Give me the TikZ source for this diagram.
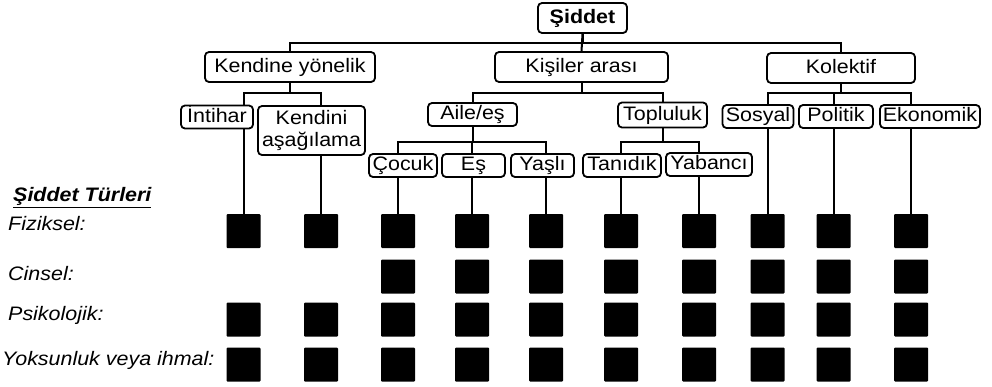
\documentclass[tikz,border=0pt]{standalone}
\usepackage{fontspec}
\setmainfont{Liberation Sans}[FakeStretch=1.1]
\usetikzlibrary{backgrounds}

\tikzset{
  kutu/.style={draw, line width=1.8pt, rounded corners=4pt, fill=white, inner sep=0pt,
    minimum height=23pt, text height=14pt, text depth=4pt, font=\fontsize{19.5}{22}\selectfont},
  kare/.style={fill=black, minimum size=34pt, inner sep=0pt, rounded corners=1pt},
  etiket/.style={anchor=base west, inner sep=0pt, font=\fontsize{19.5}{22}\selectfont\itshape},
  dal/.style={line width=2pt}
}

\begin{document}
\begin{tikzpicture}[x=1pt,y=1pt,yscale=-1,xscale=1]
    \useasboundingbox (0,0) rectangle (992,386);

    %Shape: Rounded Rect [top level]
    \node[kutu, minimum width=89pt, minimum height=30pt, font=\fontsize{19.5}{22}\selectfont\bfseries] (sid) at (582.5,18) {Şiddet};
    \node[kutu, minimum width=170pt, minimum height=30pt] (kend) at (290,67) {Kendine yönelik};
    \node[kutu, minimum width=173pt, minimum height=30pt] (kisi) at (581.5,67) {Kişiler arası};
    \node[kutu, minimum width=148pt, minimum height=30pt] (kol) at (841,68) {Kolektif};

    %Shape: Rounded Rect [second level]
    \node[kutu, minimum width=72pt] (int) at (217,117) {İntihar};
    \node[kutu, align=center, text height=, text depth=, minimum width=107pt, minimum height=49pt] (kasag) at (311.5,130.5) {Kendini\\aşağılama};
    \node[kutu, minimum width=89pt] (aile) at (472.5,114.5) {Aile/eş};
    \node[kutu, minimum width=89pt, minimum height=25pt] (top) at (662.5,115) {Topluluk};
    \node[kutu, minimum width=71pt] (sos) at (758,116.5) {Sosyal};
    \node[kutu, minimum width=74pt] (pol) at (836,116.5) {Politik};
    \node[kutu, minimum width=100pt] (eko) at (930,116.5) {Ekonomik};

    %Shape: Rounded Rect [third level]
    \node[kutu, minimum width=68pt] (coc) at (403,165.5) {Çocuk};
    \node[kutu, minimum width=63pt] (es) at (473.5,165.5) {Eş};
    \node[kutu, minimum width=63pt] (yas) at (542.5,165.5) {Yaşlı};
    \node[kutu, minimum width=78pt] (tan) at (622,165.5) {Tanıdık};
    \node[kutu, minimum width=86pt] (yab) at (709,164.5) {Yabancı};

    %Shape: Squares
    \foreach \x [count=\i] in {243.5,321,398,472,546,621,699,767.5,833.5,911}{
      \node[kare] (f\i) at (\x,231) {};
      \node[kare] (p\i) at (\x,319.5) {};
      \node[kare] (y\i) at (\x,364.5) {};
    }
    \foreach \x [count=\i from 3] in {398,472,546,621,699,767.5,833.5,911}
      \node[kare] (c\i) at (\x,276.5) {};

    % Text Node
    \node[etiket] (baslik) at (13,201.5) {\bfseries\underline{Şiddet Türleri}};
    % Text Node
    \node[etiket] (fiz) at (8,230.5) {Fiziksel:};
    % Text Node
    \node[etiket] (cin) at (8,280.5) {Cinsel:};
    % Text Node
    \node[etiket] (psi) at (8,320.5) {Psikolojik:};
    % Text Node
    \node[etiket] (yok) at (2,365) {Yoksunluk veya ihmal:};

    %Straight Lines [tree]
    \begin{scope}[on background layer]
      \draw[dal] (sid.south) -- ++(0,9) -| (kend.north);
      \draw[dal] (sid.south) -- (kisi.north);
      \draw[dal] (sid.south) -- ++(0,9) -| (kol.north);
      \draw[dal] (kend.south) -- ++(0,10) -| (f1.north);
      \draw[dal] (kend.south) -- ++(0,10) -| (f2.north);
      \draw[dal] (kisi.south) -- ++(0,10) -| (aile.north);
      \draw[dal] (kisi.south) -- ++(0,10) -| (top.north);
      \draw[dal] (aile.south) -- ++(0,15) -| (f3.north);
      \draw[dal] (aile.south) -- ++(0,15) -| (f4.north);
      \draw[dal] (aile.south) -- ++(0,15) -| (f5.north);
      \draw[dal] (top.south) -- ++(0,14) -| (f6.north);
      \draw[dal] (top.south) -- ++(0,14) -| (f7.north);
      \draw[dal] (kol.south) -- ++(0,9) -| (f8.north);
      \draw[dal] (kol.south) -- ++(0,9) -| (f9.north);
      \draw[dal] (kol.south) -- ++(0,9) -| (f10.north);
    \end{scope}

\end{tikzpicture}
\end{document}
